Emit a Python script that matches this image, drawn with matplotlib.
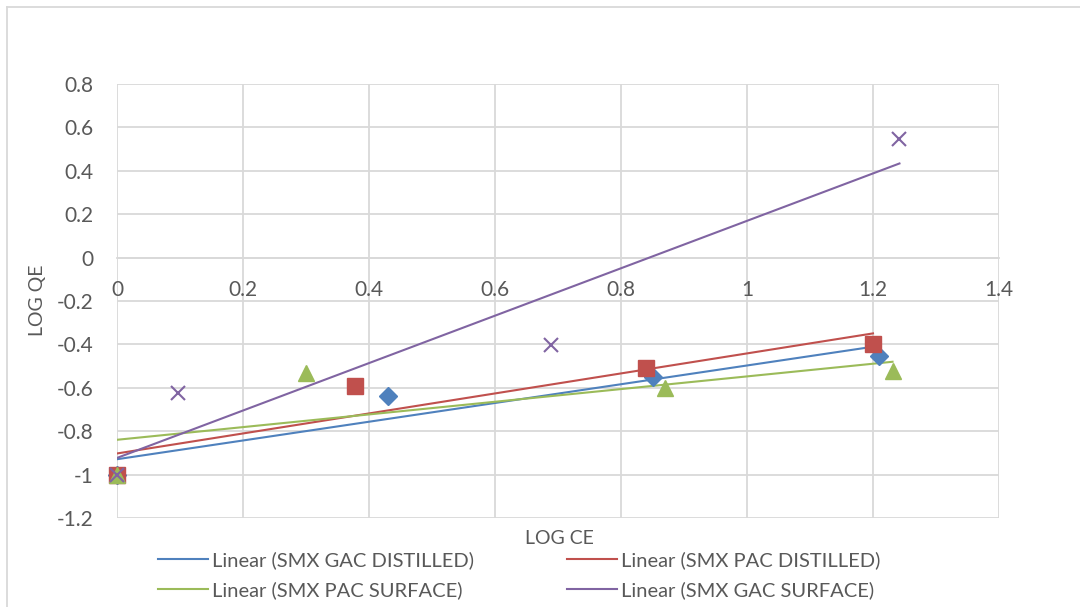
import numpy as np
import matplotlib.pyplot as plt
from matplotlib.lines import Line2D

# data (log Ce, log qe)
gac_dist_x = [0.0, 0.43, 0.85, 1.21]
gac_dist_y = [-1.0, -0.64, -0.548, -0.453]
pac_dist_x = [0.0, 0.378, 0.839, 1.20]
pac_dist_y = [-1.0, -0.59, -0.507, -0.399]
pac_surf_x = [0.0, 0.30, 0.87, 1.231]
pac_surf_y = [-1.0, -0.533, -0.603, -0.521]
gac_surf_x = [0.0, 0.097, 0.689, 1.242]
gac_surf_y = [-1.0, -0.622, -0.402, 0.547]

names = ["SMX GAC DISTILLED", "SMX PAC DISTILLED", "SMX PAC SURFACE", "SMX GAC SURFACE"]
xs = [gac_dist_x, pac_dist_x, pac_surf_x, gac_surf_x]
ys = [gac_dist_y, pac_dist_y, pac_surf_y, gac_surf_y]
colors = ["#4F81BD", "#C0504D", "#9BBB59", "#8064A2"]
markers = ["D", "s", "^", "x"]
msizes = [9, 11, 11, 10]

xticks = [0, 0.2, 0.4, 0.6, 0.8, 1, 1.2, 1.4]
yticks = [-1.2, -1, -0.8, -0.6, -0.4, -0.2, 0, 0.2, 0.4, 0.6, 0.8]

plt.rcParams['font.family'] = ['Lato', 'DejaVu Sans']
grid_c = "#D9D9D9"
text_c = "#595959"

fig = plt.figure(figsize=(10.8, 6.07), dpi=100)
ax = fig.add_axes([117/1080, 1 - 518/607, 882/1080, 434/607])

handles = []
for x, y, c, m, ms, n in zip(xs, ys, colors, markers, msizes, names):
    x = np.array(x)
    y = np.array(y)
    k, b = np.polyfit(x, y, 1)
    xl = np.array([x.min(), x.max()])
    h, = ax.plot(xl, k * xl + b, color=c, lw=1.5, zorder=3, label="Linear (" + n + ")")
    handles.append(h)
for x, y, c, m, ms in zip(xs, ys, colors, markers, msizes):
    if m == "x":
        ax.plot(x, y, ls="none", marker=m, ms=ms, mew=1.5, color=c, zorder=4, clip_on=False)
    else:
        ax.plot(x, y, ls="none", marker=m, ms=ms, mec=c, mfc=c, zorder=4, clip_on=False)

ax.set_xlim(0, 1.4)
ax.set_ylim(-1.2, 0.8)
ax.set_xticks(xticks)
ax.set_yticks(yticks)
ax.set_xticklabels(["0" if v == 0 else ("1" if v == 1 else "%.1f" % v) for v in xticks])
ax.set_yticklabels(["0" if v == 0 else ("-1" if v == -1 else "%.1f" % v) for v in yticks])
ax.grid(True, color=grid_c, lw=1.3)
ax.set_axisbelow(True)
for s in ["top", "right", "left"]:
    ax.spines[s].set_visible(False)
ax.spines["bottom"].set_position(("data", 0))
ax.spines["bottom"].set_color(grid_c)
ax.spines["bottom"].set_linewidth(1.3)
ax.tick_params(length=0, labelsize=15, colors=text_c)
ax.tick_params(axis="y", pad=17)
ax.tick_params(axis="x", pad=16)

fig.text(559/1080, 1 - 538/607, "LOG CE", ha="center", va="center", fontsize=14, color=text_c)
fig.text(37/1080, 1 - 300/607, "LOG QE", ha="center", va="center", rotation=90, fontsize=14, color=text_c)

order = [0, 2, 1, 3]
leg = fig.legend([handles[i] for i in order], [handles[i].get_label() for i in order],
                 ncol=2, loc="center", bbox_to_anchor=(519/1080, 1 - 575/607),
                 frameon=False, fontsize=14.5, handlelength=2.5, handletextpad=0.2,
                 columnspacing=4.6, labelspacing=0.6, borderpad=0.2)
for t in leg.get_texts():
    t.set_color(text_c)

# chart area border
fig.add_artist(Line2D([6.5/1080, 1], [1 - 7/607, 1 - 7/607], color=grid_c, lw=1.3))
fig.add_artist(Line2D([6.5/1080, 6.5/1080], [0, 1 - 7/607], color=grid_c, lw=1.3))

fig.savefig("out.png", dpi=100)
